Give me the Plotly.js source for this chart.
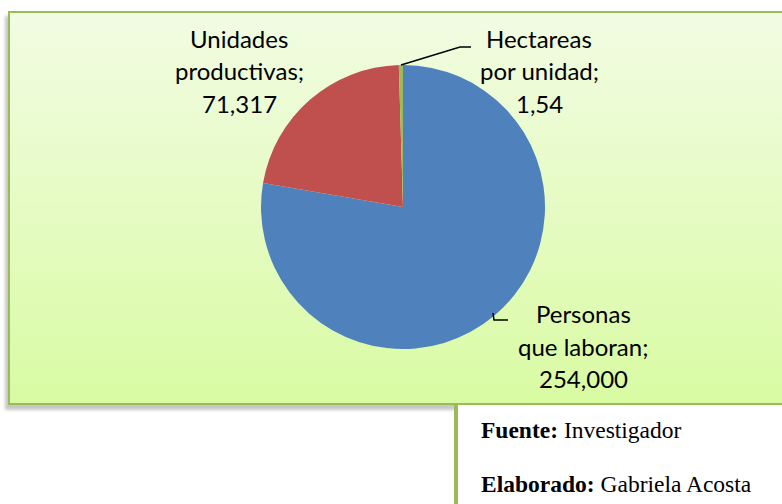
<!DOCTYPE html>
<html>
<head>
<meta charset="utf-8">
<script src="https://cdn.plot.ly/plotly-3.0.1.min.js"></script>
<style>
  html, body { margin: 0; padding: 0; background: #ffffff; }
  #wrap { position: relative; width: 782px; height: 504px; overflow: hidden; background: #ffffff; }
  #box { position: absolute; left: 8px; top: 11px; width: 800px; height: 390px;
         border: 2px solid #9BBB59;
         background: linear-gradient(to bottom, #F1FCE2 0%, #E6FBC4 50%, #D9FBA3 100%);
         box-shadow: -3px 5px 3px rgba(0,0,0,0.22); }
  #foot { position: absolute; left: 454px; top: 405px; width: 340px; height: 110px;
          border-left: 4px solid #9BBB59; background: #ffffff; }
  #chart { position: absolute; left: 0; top: 0; width: 782px; height: 504px; }
</style>
</head>
<body>
<div id="wrap">
  <div id="box"></div>
  <div id="foot"></div>
  <div id="chart"></div>
</div>
<script>
// ---- data ----
const categories = ['Personas que laboran', 'Unidades productivas', 'Hectareas por unidad'];
const values = [254.000, 71.317, 1.54];
const valueLabels = ['254,000', '71,317', '1,54'];
const labelLines = [['Personas', 'que laboran;'], ['Unidades', 'productivas;'], ['Hectareas', 'por unidad;']];
const sliceColors = ['#4F81BD', '#C0504D', '#9BBB59'];
const sourceLines = [['Fuente:', 'Investigador'], ['Elaborado:', 'Gabriela Acosta']];

// ---- layout helpers (pixel -> paper) ----
const W = 782, H = 504;
const px = x => x / W;
const py = y => 1 - y / H;

const cx = 403, cy = 207, R = 142;

const trace = {
  type: 'pie',
  labels: categories,
  values: values,
  sort: false,
  direction: 'clockwise',
  rotation: 0,
  textinfo: 'none',
  hoverinfo: 'none',
  showlegend: false,
  marker: { colors: sliceColors, line: { width: 0 } },
  domain: { x: [px(cx - R), px(cx + R)], y: [py(cy + R), py(cy - R)] }
};

// label block positions (center x, first baseline y)
const labelPos = [[583, 323], [239, 48], [539, 48]];
const lineGap = 32.5;
const annotations = [];
const labelFont = { family: 'Lato, Carlito, Calibri, sans-serif', size: 24, color: '#000000' };
categories.forEach((c, i) => {
  const lines = labelLines[i].concat([valueLabels[i]]);
  lines.forEach((t, j) => {
    annotations.push({
      xref: 'paper', yref: 'paper', showarrow: false,
      x: px(labelPos[i][0]), y: py(labelPos[i][1] + j * lineGap - 9.5),
      xanchor: 'center', yanchor: 'middle',
      text: t, font: labelFont
    });
  });
});

const srcFont = { family: '"Liberation Serif", "Times New Roman", serif', size: 23.5, color: '#000000' };
const srcBase = [438, 492];
sourceLines.forEach((s, j) => {
  annotations.push({
    xref: 'paper', yref: 'paper', showarrow: false,
    x: px(479), y: py(srcBase[j] - 8),
    xanchor: 'left', yanchor: 'middle',
    text: '<b>' + s[0] + '</b> ' + s[1], font: srcFont
  });
});

const toPath = pts => pts.map((p, k) => (k ? 'L' : 'M') + px(p[0]) + ',' + py(p[1])).join(' ');

const shapes = [
  { type: 'path', xref: 'paper', yref: 'paper',
    path: toPath([[401, 65], [460, 47], [471, 47]]),
    line: { color: '#000000', width: 1.5 } },
  { type: 'path', xref: 'paper', yref: 'paper',
    path: toPath([[493, 313], [494, 320], [508, 320]]),
    line: { color: '#000000', width: 1.5 } }
];

const layout = {
  width: W, height: H,
  margin: { l: 0, r: 0, t: 0, b: 0, pad: 0 },
  paper_bgcolor: 'rgba(0,0,0,0)',
  plot_bgcolor: 'rgba(0,0,0,0)',
  showlegend: false,
  annotations: annotations,
  shapes: shapes
};

Plotly.newPlot('chart', [trace], layout, { displayModeBar: false, staticPlot: true });
</script>
</body>
</html>
